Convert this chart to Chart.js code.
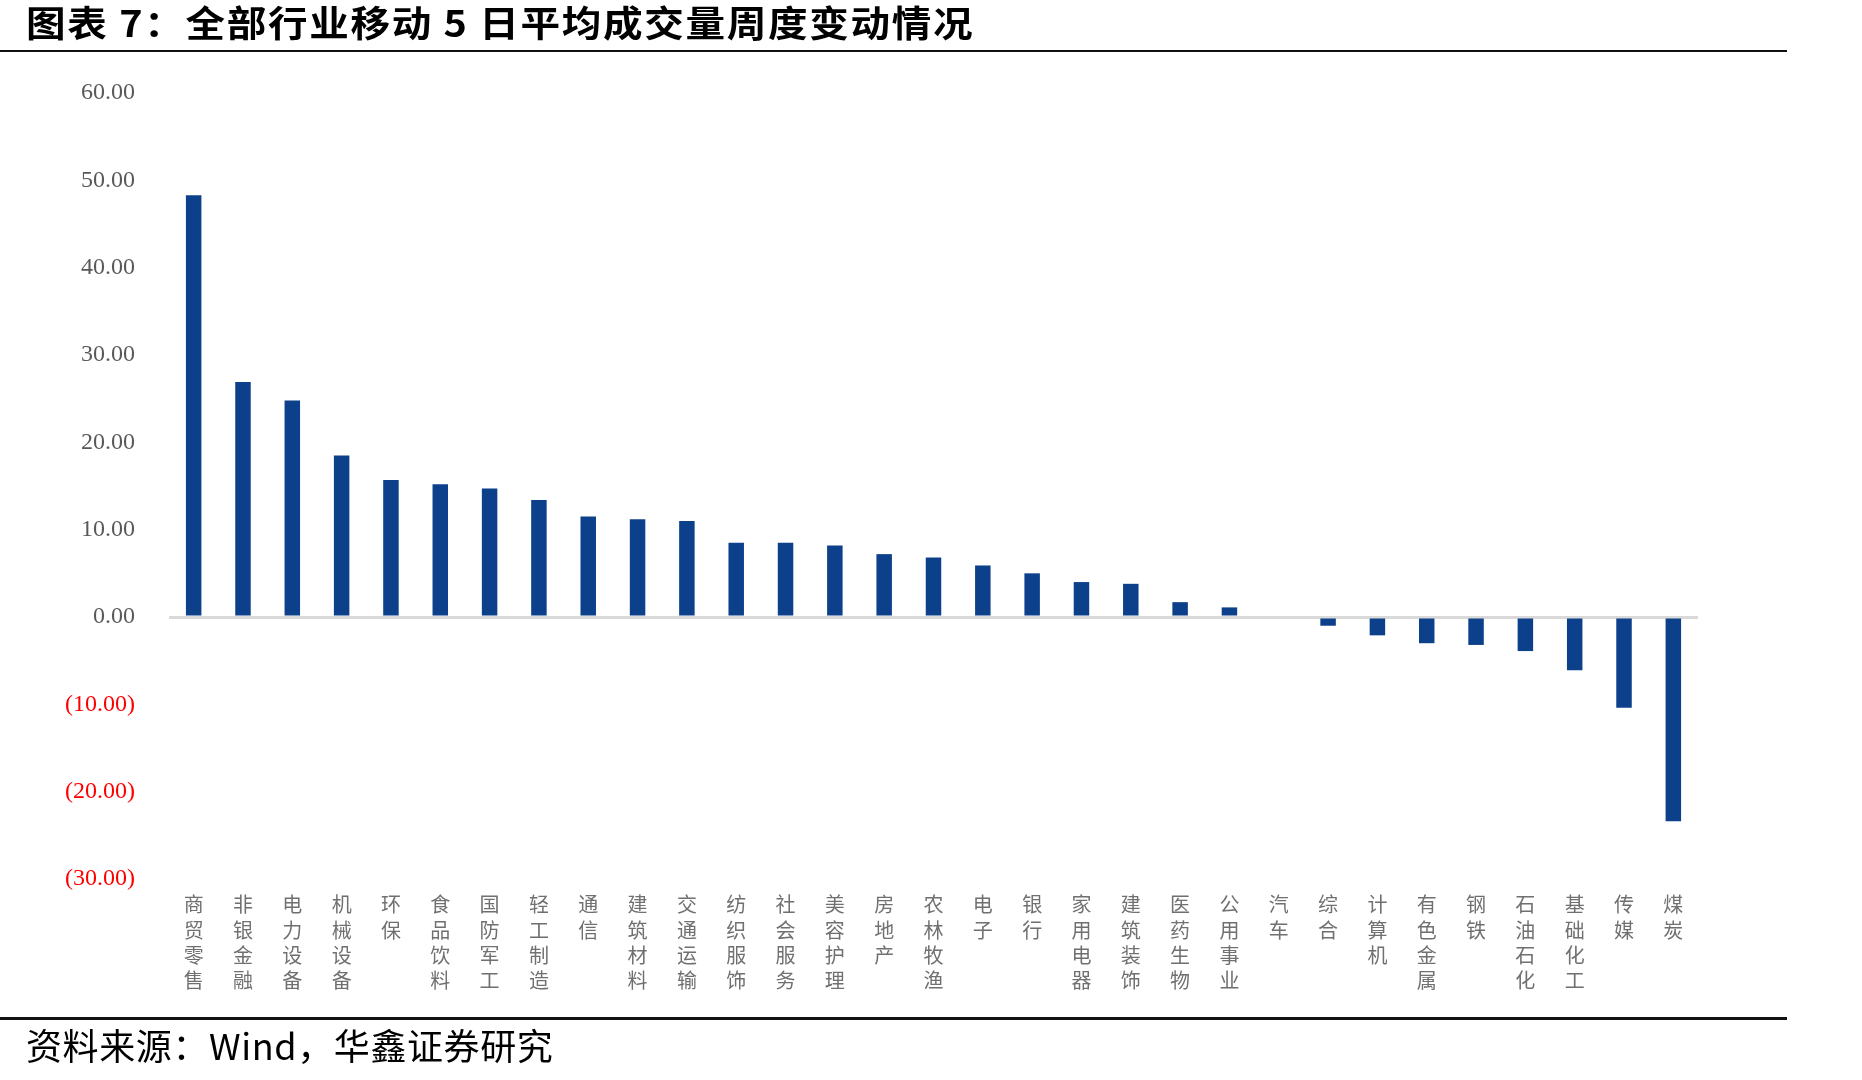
<!DOCTYPE html>
<html>
<head>
<meta charset="utf-8">
<script src="https://cdn.jsdelivr.net/npm/chart.js@4.4.1/dist/chart.umd.min.js"></script>
<style>
  html, body { margin: 0; padding: 0; background: #fff; }
  #wrap { position: relative; width: 1862px; height: 1080px; overflow: hidden; }
  #c { position: absolute; left: 0; top: 0; }
  .title { position: absolute; left: 26px; top: 3px; font: bold 36px "Noto Sans CJK SC"; line-height: 1;
           letter-spacing: 1.5px; color: #000; white-space: nowrap; transform: scaleX(1.1); transform-origin: left top; }
  .rule { position: absolute; left: 0; width: 1787px; background: #111; }
  .src { position: absolute; left: 26px; top: 1026px; font: 36px "Noto Sans CJK SC"; line-height: 1; letter-spacing: 0.6px; color: #000; white-space: nowrap; }
</style>
</head>
<body>
<div id="wrap">
  <canvas id="c" width="1862" height="1080"></canvas>
  <div class="title">图表 7：全部行业移动 5 日平均成交量周度变动情况</div>
  <div class="rule" style="top:50px;height:2px"></div>
  <div class="rule" style="top:1017px;height:3px"></div>
  <div class="src">资料来源：Wind，华鑫证券研究</div>
</div>
<script>
// 行业名称（竖排显示，每字一行）
const industries = ['商贸零售', '非银金融', '电力设备', '机械设备', '环保', '食品饮料', '国防军工', '轻工制造',
  '通信', '建筑材料', '交通运输', '纺织服饰', '社会服务', '美容护理', '房地产', '农林牧渔', '电子', '银行',
  '家用电器', '建筑装饰', '医药生物', '公用事业', '汽车', '综合', '计算机', '有色金属', '钢铁', '石油石化',
  '基础化工', '传媒', '煤炭'];

// 移动5日平均成交量周度变动（%）
const changes = [48.3, 26.9, 24.8, 18.5, 15.7, 15.2, 14.7, 13.4, 11.5, 11.2, 11.0, 8.5, 8.5, 8.2, 7.2, 6.8,
  5.9, 5.0, 4.0, 3.8, 1.7, 1.1, 0.0, -1.0, -2.1, -3.0, -3.2, -3.9, -6.1, -10.4, -23.4];

// 纵轴刻度
const yMin = -30;
const yMax = 60;
const yStep = 10;

function fmt(v) {
  return v < 0 ? '(' + Math.abs(v).toFixed(2) + ')' : v.toFixed(2);
}

const ctx = document.getElementById('c').getContext('2d');
new Chart(ctx, {
  type: 'bar',
  data: {
    labels: industries.map(s => s.split('')),
    datasets: [{
      data: changes,
      backgroundColor: '#0c408a',
      barPercentage: 0.314,
      categoryPercentage: 1
    }]
  },
  options: {
    responsive: false,
    animation: false,
    layout: { padding: { top: 93, right: 164, bottom: 0, left: 0 } },
    plugins: { legend: { display: false }, tooltip: { enabled: false } },
    scales: {
      x: {
        grid: { display: false, drawTicks: false },
        border: { display: false },
        ticks: {
          autoSkip: false,
          maxRotation: 0,
          padding: 13,
          color: '#707070',
          font: { family: 'Noto Sans CJK SC', size: 20, lineHeight: 1.265 }
        },
        afterFit: s => { s.height = 201; }
      },
      y: {
        min: yMin,
        max: yMax,
        border: { display: false },
        grid: {
          drawTicks: false,
          color: c => c.tick && c.tick.value === 0 ? '#d9d9d9' : 'rgba(0,0,0,0)',
          lineWidth: 3
        },
        ticks: {
          stepSize: yStep,
          padding: 34,
          color: c => c.tick.value < 0 ? '#ff0000' : '#595959',
          font: { family: 'Liberation Serif', size: 24 },
          callback: v => fmt(v)
        },
        afterFit: s => { s.width = 169; }
      }
    }
  }
});
</script>
</body>
</html>
